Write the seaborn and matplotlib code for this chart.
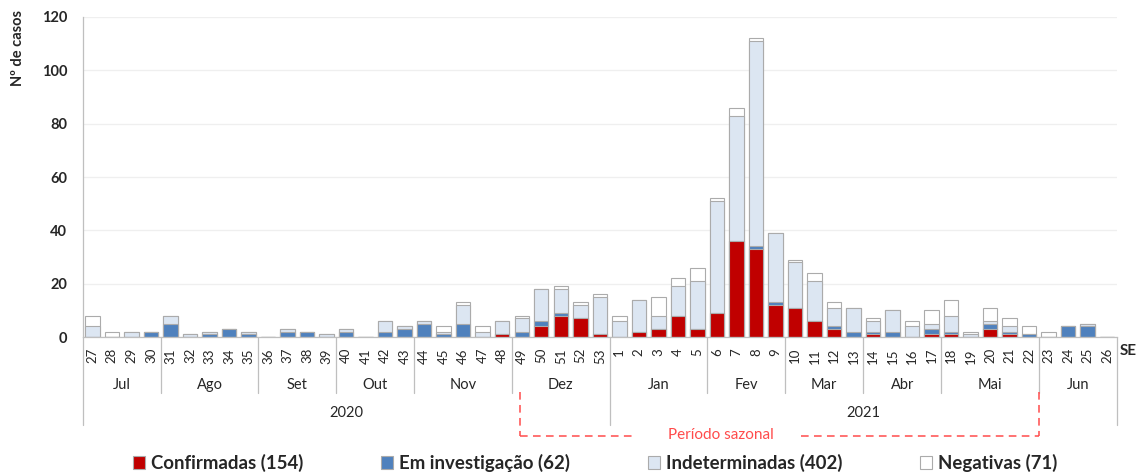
import matplotlib
matplotlib.use("Agg")
import matplotlib.pyplot as plt
import matplotlib.transforms as mtransforms
from matplotlib.patches import Patch
import numpy as np
import seaborn as sns

# ---------------- data ----------------
weeks = [str(w) for w in list(range(27, 54)) + list(range(1, 27))]

confirmadas = [0, 0, 0, 0, 0, 0, 0, 0, 0, 0, 0, 0, 0, 0, 0, 0, 0, 0, 0, 0, 0, 1, 0, 4, 8, 7, 1,
               0, 2, 3, 8, 3, 9, 36, 33, 12, 11, 6, 3, 0, 1, 0, 0, 1, 1, 0, 3, 1, 0, 0, 0, 0, 0]
em_investigacao = [0, 0, 0, 2, 5, 0, 1, 3, 1, 0, 2, 2, 0, 2, 0, 2, 3, 5, 1, 5, 0, 0, 2, 2, 1, 0, 0,
                   0, 0, 0, 0, 0, 0, 0, 1, 1, 0, 0, 1, 2, 1, 2, 0, 2, 1, 0, 2, 1, 1, 0, 4, 4, 0]
indeterminadas = [4, 0, 2, 0, 3, 1, 1, 0, 1, 0, 1, 0, 1, 1, 0, 4, 1, 1, 1, 7, 2, 5, 5, 12, 9, 5, 14,
                  6, 12, 5, 11, 18, 42, 47, 77, 26, 17, 15, 7, 9, 4, 8, 4, 2, 6, 1, 1, 2, 0, 0, 0, 1, 0]
negativas = [4, 2, 0, 0, 0, 0, 0, 0, 0, 0, 0, 0, 0, 0, 0, 0, 0, 0, 2, 1, 2, 0, 1, 0, 1, 1, 1,
             2, 0, 7, 3, 5, 1, 3, 1, 0, 1, 3, 2, 0, 1, 0, 2, 5, 6, 1, 5, 3, 3, 2, 0, 0, 0]

months = ["Jul", "Ago", "Set", "Out", "Nov", "Dez", "Jan", "Fev", "Mar", "Abr", "Mai", "Jun"]
weeks_per_month = [4, 5, 4, 4, 5, 5, 5, 4, 4, 4, 5, 4]
years = ["2020", "2021"]
weeks_per_year = [27, 26]

series_names = ["Confirmadas", "Em investigação", "Indeterminadas", "Negativas"]
colors = ["#C00000", "#4F81BD", "#DCE6F2", "#FFFFFF"]
edge = "#ABABAB"

# ---------------- figure ----------------
sns.set_style("white")
plt.rcParams["font.family"] = ["Lato", "DejaVu Sans"]

fig = plt.figure(figsize=(11.40, 4.76), dpi=100)
ax = fig.add_axes([0.0725, 0.2920, 0.9073, 0.6723])

c = np.array(confirmadas)
e = np.array(em_investigacao)
i_ = np.array(indeterminadas)
n = np.array(negativas)
cum_layers = [c + e + i_ + n, c + e + i_, c + e, c]
layer_colors = [colors[3], colors[2], colors[1], colors[0]]

for vals, col in zip(cum_layers, layer_colors):
    sns.barplot(x=weeks, y=list(vals), order=weeks, color=col, saturation=1,
                width=0.74, edgecolor=edge, linewidth=0.8, errorbar=None, ax=ax)

ax.set_xlim(-0.5, len(weeks) - 0.5)
ax.set_ylim(0, 120)
ax.set_yticks(range(0, 121, 20))
ax.set_axisbelow(True)
ax.yaxis.grid(True, color="#EFEFEF", linewidth=0.9)
ax.xaxis.grid(False)
for s in ["top", "right"]:
    ax.spines[s].set_visible(False)
for s in ["left", "bottom"]:
    ax.spines[s].set_color("#BFBFBF")
    ax.spines[s].set_linewidth(0.9)

ax.set_xlabel("")
ax.set_ylabel("")
ax.tick_params(axis="y", length=4, width=0.8, color="#BFBFBF", pad=7,
               labelsize=10.5, labelcolor="#262626")
for t in ax.get_yticklabels():
    t.set_fontweight("bold")
ax.tick_params(axis="x", length=0, pad=8, labelsize=9.5, labelcolor="#262626",
               labelrotation=90)

trans = mtransforms.blended_transform_factory(ax.transData, ax.transAxes)

# month labels and separators
start = -0.5
year_bounds = set(np.cumsum([0] + weeks_per_year) - 0.5)
bounds = [start]
for m, k in zip(months, weeks_per_month):
    ax.text(start + k / 2, -0.15, m, transform=trans, ha="center", va="center",
            fontsize=10.5, color="#262626")
    start += k
    bounds.append(start)
for b in bounds:
    y_end = -0.275 if b in year_bounds else -0.175
    ax.plot([b, b], [0, y_end], transform=trans, color="#BFBFBF", lw=0.9,
            clip_on=False)

# year labels
start = -0.5
for yl, k in zip(years, weeks_per_year):
    ax.text(start + k / 2, -0.2375, yl, transform=trans, ha="center", va="center",
            fontsize=10.5, color="#262626")
    start += k

# seasonal period bracket
red = "#FF4B4B"
x_left, x_right = 21.9, 48.5
y_top, y_bot = -0.172, -0.309
dash = dict(color=red, lw=1.1, linestyle=(0, (5, 3.5)), clip_on=False, transform=trans)
ax.plot([x_left, x_left], [y_top, y_bot], **dash)
ax.plot([x_right, x_right], [y_top, y_bot], **dash)
ax.plot([x_left, 27.8], [y_bot, y_bot], **dash)
ax.plot([36.3, x_right], [y_bot, y_bot], **dash)
ax.text(32.2, -0.306, "Período sazonal", transform=trans, ha="center", va="center",
        fontsize=11, color=red)

# SE label
ax.text(1.003, -0.044, "SE", transform=ax.transAxes, ha="left", va="center",
        fontsize=11, fontweight="bold", color="#262626")

# y-axis label
fig.text(0.016, 0.978, "Nº de casos", rotation=90, ha="center", va="top",
         fontsize=10.5, fontweight="bold", color="#262626")

# legend
totals = [c.sum(), e.sum(), i_.sum(), n.sum()]
handles = [Patch(facecolor=col, edgecolor=edge, linewidth=0.8) for col in colors]
labels = [f"{nm} ({int(t)})" for nm, t in zip(series_names, totals)]
fig.legend(handles, labels, loc="center", bbox_to_anchor=(0.522, 0.027), ncol=4,
           frameon=False, columnspacing=4.2, handlelength=0.65, handleheight=0.65,
           handletextpad=0.3,
           prop={"family": ["Lato", "DejaVu Sans"], "weight": "bold", "size": 13.4})

fig.savefig("out.png", dpi=100)
